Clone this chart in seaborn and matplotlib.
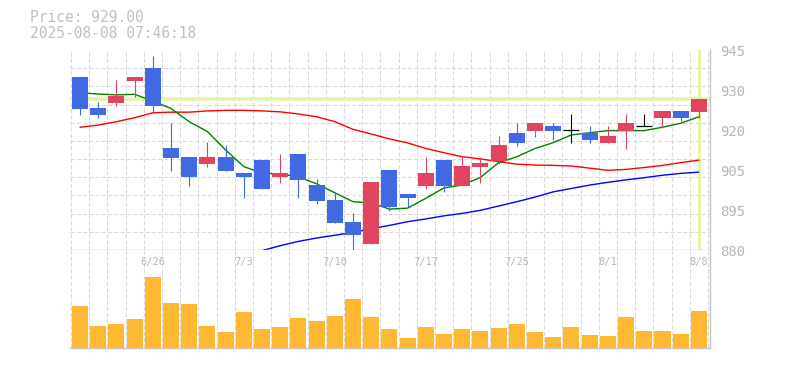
import numpy as np
import pandas as pd
import matplotlib
matplotlib.use("Agg")
import matplotlib.pyplot as plt
import matplotlib.transforms as mtransforms
import seaborn as sns

# daily candles, 6/20 .. 8/8
dates = ["6/20", "6/23", "6/24", "6/25", "6/26", "6/27", "6/30", "7/1", "7/2", "7/3",
         "7/4", "7/7", "7/8", "7/9", "7/10", "7/11", "7/14", "7/15", "7/16", "7/17",
         "7/18", "7/22", "7/23", "7/24", "7/25", "7/28", "7/29", "7/30", "7/31", "8/1",
         "8/4", "8/5", "8/6", "8/7", "8/8"]
opens = [936.2, 926.2, 927.9, 934.9, 939.1, 913.1, 910.2, 908.0, 910.2, 905.0,
         909.2, 903.8, 911.2, 901.1, 896.2, 889.1, 882.0, 906.1, 898.2, 900.9,
         909.2, 900.9, 907.1, 909.0, 918.0, 918.8, 920.3, 919.0, 918.0, 914.8,
         918.8, 920.2, 922.9, 925.2, 924.9]
highs = [936.2, 928.1, 935.2, 936.2, 943.0, 921.3, 910.2, 915.1, 914.1, 905.0,
         909.2, 911.2, 911.2, 903.1, 898.9, 892.0, 902.1, 906.1, 898.2, 910.2,
         909.2, 910.2, 910.2, 917.0, 921.3, 921.3, 921.3, 924.2, 920.3, 920.3,
         924.2, 924.2, 925.2, 925.2, 929.0]
lows = [924.0, 923.0, 926.9, 929.8, 924.9, 905.8, 900.9, 907.1, 905.8, 897.0,
        899.9, 901.9, 897.0, 895.0, 888.9, 880.0, 882.0, 892.8, 894.1, 899.9,
        898.9, 900.9, 901.9, 908.0, 913.8, 916.7, 915.7, 914.8, 914.8, 914.8,
        912.8, 920.2, 919.7, 921.9, 922.9]
closes = [925.9, 924.0, 930.0, 936.2, 926.9, 910.0, 903.8, 910.2, 905.8, 903.8,
          899.9, 905.0, 902.8, 896.0, 888.9, 885.0, 902.1, 894.1, 897.0, 905.0,
          900.9, 907.3, 908.3, 914.1, 914.8, 921.3, 918.8, 919.0, 915.7, 917.0,
          921.3, 920.2, 925.2, 922.9, 929.0]
volume = [42, 22, 24, 29, 71, 45, 44, 22, 16, 36,
          19, 21, 30, 27, 32, 49, 31, 19, 10, 21,
          14, 19, 17, 20, 24, 16, 11, 21, 13, 12,
          31, 17, 17, 14, 37]
ma_short = [931.1, 930.7, 930.4, 930.6, 928.4, 926.0, 921.7, 918.5, 912.5, 907.1,
            905.0, 904.7, 903.8, 901.5, 898.6, 895.7, 895.3, 893.3, 893.6, 896.8,
            900.2, 901.1, 903.6, 908.4, 910.3, 913.0, 914.9, 917.4, 918.1, 918.8,
            918.8, 918.8, 919.9, 921.2, 923.3]
ma_mid = [919.9, 920.6, 921.7, 923.0, 924.6, 924.8, 924.8, 925.2, 925.4, 925.4,
          925.2, 924.9, 924.2, 923.3, 921.7, 919.2, 917.7, 916.1, 914.8, 913.0,
          911.6, 910.3, 909.6, 908.7, 907.9, 907.6, 907.5, 907.3, 906.6, 905.9,
          906.2, 906.8, 907.5, 908.4, 909.2]
ma_long = [None] * 10 + [
          879.8, 881.4, 882.8, 883.9, 884.8, 885.7, 886.9, 888.0, 889.2, 890.1,
          891.1, 891.9, 892.9, 894.3, 895.7, 897.2, 898.9, 900.0, 901.1, 902.0,
          902.8, 903.5, 904.3, 904.9, 905.3]

shown_dates = ["6/26", "7/3", "7/10", "7/17", "7/25", "8/1", "8/8"]
price_ticks = [880, 893, 906, 919, 932, 945]
price_tick_labels = ["880", "895", "905", "920", "930", "945"]
last_price = 929.00
stamp = "2025-08-08 07:46:18"

df = pd.DataFrame({"date": dates, "open": opens, "high": highs, "low": lows,
                   "close": closes, "volume": volume, "ma5": ma_short,
                   "ma25": ma_mid, "ma75": ma_long})
df["ma75"] = df["ma75"].astype(float)
df["i"] = np.arange(len(df))

UP = "#e0445f"
DOWN = "#4169e1"
GRID = "#d9d9d9"
FRAME = "#c4c4c4"
TEXT = "#b8b8b8"
MARK = "#e3f5a6"

sns.set_style("white")
plt.rcParams["font.family"] = ["DejaVu Sans Mono", "DejaVu Sans"]

fig = plt.figure(figsize=(7.85, 3.7), dpi=100)
ax = fig.add_axes([70 / 785, 120 / 370, 640 / 785, 200 / 370])
ax2 = fig.add_axes([70 / 785, 22 / 370, 640 / 785, 98 / 370])

# last price marker lines
ax.axhline(last_price, color=MARK, lw=2.6, zorder=1)
ax.axvline(df["i"].iloc[-1], color=MARK, lw=2.2, zorder=1)

# moving averages
sns.lineplot(data=df, x="i", y="ma25", color="#ff0000", lw=1, ax=ax, zorder=2)
sns.lineplot(data=df.dropna(subset=["ma75"]), x="i", y="ma75", color="#0000ff", lw=1, ax=ax, zorder=2)
sns.lineplot(data=df, x="i", y="ma5", color="#008000", lw=1, ax=ax, zorder=2)

# candles
for _, r in df.iterrows():
    if r["close"] > r["open"]:
        c = UP
    elif r["close"] < r["open"]:
        c = DOWN
    else:
        c = "black"
    ax.vlines(r["i"], r["low"], r["high"], color=c, lw=0.8, zorder=3)
    if c == "black":
        ax.hlines(r["close"], r["i"] - 0.44, r["i"] + 0.44, color=c, lw=0.9, zorder=4)
    else:
        ax.bar(r["i"], abs(r["close"] - r["open"]), bottom=min(r["open"], r["close"]),
               width=0.88, color=c, zorder=4, linewidth=0)

ax.set_xlim(-0.55, 34.61)
ax.set_ylim(880, 945)
ax.set_xlabel("")
ax.set_ylabel("")
ax.set_xticks([])
ax.set_xticks(np.arange(-0.5, 35, 1), minor=True)
ax.set_yticks(price_ticks)
ax.set_yticklabels(price_tick_labels)
ax.set_yticks(np.linspace(880, 945, 12), minor=True)
ax.yaxis.tick_right()
ax.tick_params(axis="both", which="both", length=0)
ax.tick_params(axis="y", which="major", pad=7, labelsize=10, labelcolor=TEXT)
ax.grid(which="minor", color=GRID, lw=0.75, ls=(0, (4, 2)), zorder=0)
ax.set_axisbelow(True)
for s in ["top", "left"]:
    ax.spines[s].set_visible(False)
for s in ["right", "bottom"]:
    ax.spines[s].set_color(FRAME)
    ax.spines[s].set_linewidth(1)

# volume
sns.barplot(x=df["i"], y=df["volume"], color="#ffb833", saturation=1, width=0.88,
            ax=ax2, zorder=2, linewidth=0)
ax2.set_xlim(-0.55, 34.61)
ax2.set_ylim(0, 98)
ax2.set_xlabel("")
ax2.set_ylabel("")
ax2.set_xticks([])
ax2.set_yticks([])
ax2.set_xticks(np.arange(-0.5, 35, 1), minor=True)
ax2.tick_params(axis="both", which="both", length=0)
ax2.grid(which="minor", axis="x", color=GRID, lw=0.75, ls=(0, (4, 2)), zorder=0)
ax2.set_axisbelow(True)
for s in ["top", "left"]:
    ax2.spines[s].set_visible(False)
for s in ["right", "bottom"]:
    ax2.spines[s].set_color(FRAME)
    ax2.spines[s].set_linewidth(1)

trans = mtransforms.blended_transform_factory(ax2.transData, ax2.transAxes)
for d in shown_dates:
    ax2.text(dates.index(d), 0.875, d, transform=trans, ha="center", va="center",
             fontsize=7.5, color=TEXT, zorder=5)

fig.text(30 / 785, 1 - 17.5 / 370, f"Price: {last_price:.2f}", ha="left", va="center",
         fontsize=10.5, color="#c0c0c0")
fig.text(30 / 785, 1 - 33 / 370, stamp, ha="left", va="center",
         fontsize=10.5, color="#c0c0c0")

fig.savefig("out.png", dpi=100)
